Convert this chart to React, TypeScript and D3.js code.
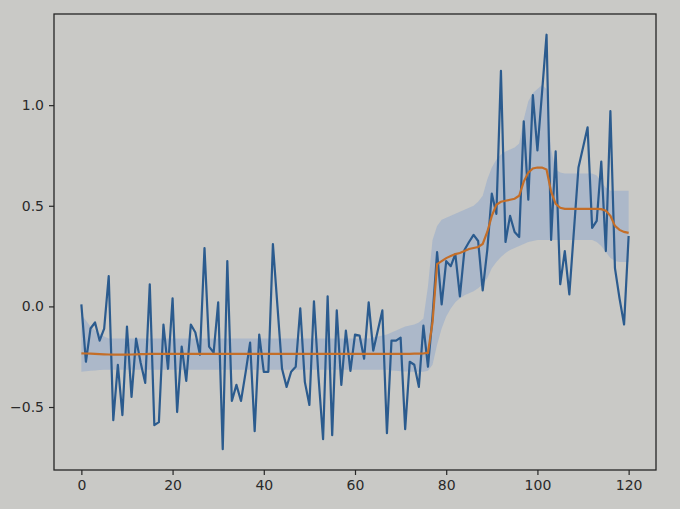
import { useEffect, useRef } from "react";
import * as d3 from "d3";

// raw signal (index 0..120)
const signal = [
  0.01, -0.275, -0.11, -0.08, -0.17, -0.11, 0.15, -0.565, -0.29, -0.54,
  -0.1, -0.45, -0.16, -0.28, -0.38, 0.11, -0.59, -0.575, -0.09, -0.31,
  0.04, -0.525, -0.2, -0.37, -0.09, -0.13, -0.24, 0.29, -0.2, -0.23,
  0.02, -0.71, 0.225, -0.47, -0.39, -0.47, -0.33, -0.18, -0.62, -0.14,
  -0.325, -0.325, 0.31, 0.0, -0.31, -0.4, -0.325, -0.3, -0.01, -0.375,
  -0.49, 0.025, -0.35, -0.66, 0.05, -0.64, -0.02, -0.39, -0.12, -0.32,
  -0.14, -0.145, -0.26, 0.02, -0.22, -0.12, -0.02, -0.63, -0.17, -0.17,
  -0.155, -0.61, -0.275, -0.29, -0.4, -0.095, -0.3, -0.05, 0.27, 0.01,
  0.225, 0.2, 0.26, 0.05, 0.28, 0.32, 0.355, 0.325, 0.08, 0.28,
  0.56, 0.46, 1.17, 0.32, 0.45, 0.37, 0.345, 0.92, 0.53, 1.05,
  0.775, 1.06, 1.35, 0.33, 0.77, 0.11, 0.275, 0.06, 0.375, 0.69,
  0.79, 0.89, 0.39, 0.425, 0.72, 0.275, 0.97, 0.19, 0.04, -0.09,
  0.35,
];

// smoothed trend (orange)
const trend = [
  -0.233, -0.234, -0.235, -0.236, -0.237, -0.238, -0.239, -0.24, -0.24, -0.24,
  -0.24, -0.239, -0.238, -0.237, -0.237, -0.236, -0.236, -0.236, -0.236, -0.236,
  -0.236, -0.236, -0.236, -0.236, -0.236, -0.236, -0.236, -0.236, -0.236, -0.236,
  -0.236, -0.236, -0.236, -0.236, -0.236, -0.236, -0.236, -0.236, -0.236, -0.236,
  -0.236, -0.236, -0.236, -0.236, -0.236, -0.236, -0.236, -0.236, -0.236, -0.236,
  -0.236, -0.236, -0.236, -0.236, -0.236, -0.236, -0.236, -0.236, -0.236, -0.236,
  -0.236, -0.236, -0.236, -0.236, -0.236, -0.236, -0.236, -0.236, -0.236, -0.236,
  -0.236, -0.236, -0.236, -0.235, -0.235, -0.234, -0.23, -0.08, 0.21, 0.225,
  0.24, 0.25, 0.26, 0.265, 0.275, 0.285, 0.29, 0.295, 0.31, 0.37,
  0.45, 0.505, 0.52, 0.525, 0.53, 0.535, 0.55, 0.62, 0.665, 0.685,
  0.69, 0.69, 0.68, 0.57, 0.51, 0.49, 0.485, 0.485, 0.485, 0.485,
  0.485, 0.485, 0.485, 0.485, 0.483, 0.475, 0.45, 0.4, 0.38, 0.37,
  0.365,
];

// uncertainty band, upper edge
const bandHigh = [
  -0.04, -0.07, -0.1, -0.12, -0.135, -0.15, -0.16, -0.16, -0.16, -0.16,
  -0.16, -0.16, -0.16, -0.16, -0.16, -0.16, -0.16, -0.16, -0.16, -0.16,
  -0.16, -0.16, -0.16, -0.16, -0.16, -0.16, -0.16, -0.16, -0.16, -0.16,
  -0.16, -0.16, -0.16, -0.16, -0.16, -0.16, -0.16, -0.16, -0.16, -0.16,
  -0.16, -0.16, -0.16, -0.16, -0.16, -0.16, -0.16, -0.16, -0.16, -0.16,
  -0.16, -0.16, -0.16, -0.16, -0.16, -0.16, -0.16, -0.16, -0.16, -0.16,
  -0.16, -0.16, -0.16, -0.16, -0.155, -0.15, -0.145, -0.14, -0.13, -0.12,
  -0.11, -0.1, -0.095, -0.09, -0.08, -0.06, 0.1, 0.33, 0.4, 0.43,
  0.44, 0.45, 0.46, 0.47, 0.48, 0.49, 0.5, 0.52, 0.55, 0.63,
  0.69, 0.73, 0.755, 0.77, 0.78, 0.79, 0.81, 0.93, 1.02, 1.06,
  1.08, 1.1, 1.08, 0.78, 0.68, 0.665, 0.66, 0.66, 0.66, 0.66,
  0.66, 0.66, 0.66, 0.65, 0.62, 0.59, 0.575, 0.575, 0.575, 0.575,
  0.575,
];

// uncertainty band, lower edge
const bandLow = [
  -0.325, -0.322, -0.32, -0.318, -0.316, -0.315, -0.315, -0.315, -0.315, -0.315,
  -0.315, -0.315, -0.315, -0.315, -0.315, -0.315, -0.315, -0.315, -0.315, -0.315,
  -0.315, -0.315, -0.315, -0.315, -0.315, -0.315, -0.315, -0.315, -0.315, -0.315,
  -0.315, -0.315, -0.315, -0.315, -0.315, -0.315, -0.315, -0.315, -0.315, -0.315,
  -0.315, -0.315, -0.315, -0.315, -0.315, -0.315, -0.315, -0.315, -0.315, -0.315,
  -0.315, -0.315, -0.315, -0.315, -0.315, -0.315, -0.315, -0.315, -0.315, -0.315,
  -0.315, -0.315, -0.315, -0.315, -0.315, -0.315, -0.315, -0.315, -0.318, -0.32,
  -0.322, -0.324, -0.325, -0.325, -0.325, -0.325, -0.32, -0.29, -0.19, -0.11,
  -0.05, -0.01, 0.02, 0.04, 0.055, 0.065, 0.075, 0.09, 0.11, 0.14,
  0.19, 0.22, 0.245, 0.265, 0.28, 0.29, 0.3, 0.31, 0.32, 0.325,
  0.33, 0.33, 0.33, 0.33, 0.33, 0.33, 0.33, 0.33, 0.33, 0.33,
  0.33, 0.33, 0.33, 0.32, 0.3, 0.27, 0.24, 0.225, 0.22, 0.22,
  0.22,
];

const xTicks = [0, 20, 40, 60, 80, 100, 120];
const yTicks = [-0.5, 0.0, 0.5, 1.0];

const W = 680;
const H = 509;
const margin = { left: 54, right: 24, top: 14, bottom: 39 };

const App = () => {
  const ref = useRef<SVGSVGElement>(null);

  useEffect(() => {
    const svg = d3.select(ref.current);
    svg.selectAll("*").remove();

    svg.append("rect").attr("width", W).attr("height", H).attr("fill", "#c9c9c6");

    const idx = signal.map((_, i) => i);
    const xMin = 0;
    const xMax = signal.length - 1;
    const xPad = (xMax - xMin) * 0.05;
    const all = [...signal, ...bandLow, ...bandHigh];
    const yMin = d3.min(all) as number;
    const yMax = d3.max(all) as number;
    const yPad = (yMax - yMin) * 0.05;

    const x = d3
      .scaleLinear()
      .domain([xMin - xPad, xMax + xPad])
      .range([margin.left, W - margin.right]);
    const y = d3
      .scaleLinear()
      .domain([yMin - yPad, yMax + yPad])
      .range([H - margin.bottom, margin.top]);

    const chart = svg.append("g");

    const area = d3
      .area<number>()
      .x((i) => x(i))
      .y0((i) => y(bandLow[i]))
      .y1((i) => y(bandHigh[i]));

    chart
      .append("path")
      .datum(idx)
      .attr("fill", "#a9b6c9")
      .attr("opacity", 0.9)
      .attr("d", area);

    const line = (vals: number[]) =>
      d3
        .line<number>()
        .x((i) => x(i))
        .y((i) => y(vals[i]));

    chart
      .append("path")
      .datum(idx)
      .attr("fill", "none")
      .attr("stroke", "#2b5b8e")
      .attr("stroke-width", 2.2)
      .attr("stroke-linejoin", "round")
      .attr("d", line(signal));

    chart
      .append("path")
      .datum(idx)
      .attr("fill", "none")
      .attr("stroke", "#c46e28")
      .attr("stroke-width", 2.2)
      .attr("d", line(trend));

    // frame
    svg
      .append("rect")
      .attr("x", margin.left)
      .attr("y", margin.top)
      .attr("width", W - margin.left - margin.right)
      .attr("height", H - margin.top - margin.bottom)
      .attr("fill", "none")
      .attr("stroke", "#262626")
      .attr("stroke-width", 1.3);

    const xAxis = svg
      .append("g")
      .attr("transform", `translate(0,${H - margin.bottom})`)
      .call(
        d3
          .axisBottom(x)
          .tickValues(xTicks)
          .tickSize(5)
          .tickSizeOuter(0)
          .tickPadding(5)
          .tickFormat((d) => `${d}`)
      );

    const yAxis = svg
      .append("g")
      .attr("transform", `translate(${margin.left},0)`)
      .call(
        d3
          .axisLeft(y)
          .tickValues(yTicks)
          .tickSize(5)
          .tickSizeOuter(0)
          .tickPadding(5)
          .tickFormat((d) => d3.format(".1f")(d as number).replace("-", "\u2212"))
      );

    [xAxis, yAxis].forEach((ax) => {
      ax.select(".domain").remove();
      ax.selectAll("line").attr("stroke", "#262626").attr("stroke-width", 1.2);
      ax.selectAll("text")
        .attr("fill", "#2a2a2a")
        .style("font-family", "'DejaVu Sans', sans-serif")
        .style("font-size", "14px");
    });
  });

  return (
    <div style={{ position: "fixed", left: 0, top: 0 }}>
      <svg ref={ref} width={W} height={H} />
    </div>
  );
};

export default App;
